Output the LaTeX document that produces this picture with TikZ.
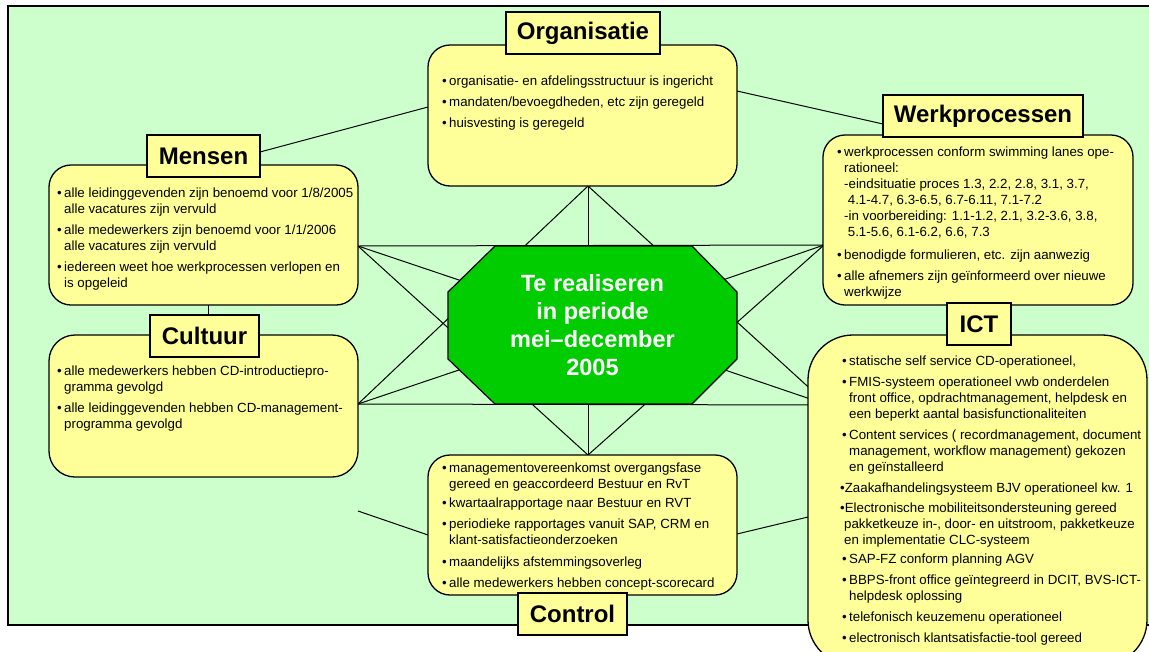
\documentclass[tikz,border=0pt]{standalone}
\usepackage{fontspec}
\setmainfont{Liberation Sans}
\definecolor{bg}{HTML}{CCFFCC}
\definecolor{note}{HTML}{FFFF99}
\definecolor{hubgreen}{HTML}{00CC00}
\newcommand\bulletmark{\makebox[7pt][l]{\textbullet}}
\newcommand\itemind{\hspace*{7pt}}
\begin{document}
\begin{tikzpicture}[x=1pt,y=-1pt,
  card/.style={draw, fill=note, line width=1.3pt, rounded corners=22pt, inner sep=0pt},
  ttl/.style={draw, fill=note, line width=1.3pt, inner sep=0pt,
    font=\bfseries\fontsize{24}{28}\selectfont},
  txt/.style={anchor=north west, inner sep=0pt, align=left,
    font=\fontsize{13.3}{16}\selectfont},
  link/.style={line width=1pt}]
\useasboundingbox (0,0) rectangle (1149,651);
\clip (0,0) rectangle (1149,651);

% green field
\path[fill=bg, draw=black, line width=1.6pt] (8,6) rectangle (1170,625);

% anchor points of the star
\coordinate (O) at (588,186);
\coordinate (C) at (588,455);
\coordinate (M) at (358,246);
\coordinate (K) at (358,404);
\coordinate (W) at (824,245);
\coordinate (I) at (828,405);
\coordinate (H) at (592.5,325);

% star lines
\draw[link] (M) -- (W);
\draw[link] (K) -- (I);
\draw[link] (O) -- (C);
\draw[link] (M) -- (C);
\draw[link] (K) -- (O);
\draw[link] (W) -- (C);
\draw[link] (I) -- (O);
\draw[link] (M) -- (H);
\draw[link] (K) -- (H);
\draw[link] (W) -- (H);
\draw[link] (I) -- (H);

% connectors between the outer boxes
\coordinate (mo1) at (260,152);
\coordinate (mo2) at (428,107);
\coordinate (wo1) at (883,124);
\coordinate (wo2) at (737,91);
\coordinate (mc1) at (208,305);
\coordinate (mc2) at (208,315);
\coordinate (cc1) at (358,511);
\coordinate (cc2) at (428,535);
\coordinate (ci1) at (737,534);
\coordinate (ci2) at (808,517);
\draw[link] (mo1) -- (mo2);
\draw[link] (wo1) -- (wo2);
\draw[link] (mc1) -- (mc2);
\draw[link] (cc1) -- (cc2);
\draw[link] (ci1) -- (ci2);

% central octagon
\filldraw[fill=hubgreen, draw=black, line width=1.2pt]
  (495,246) -- (692,246) -- (737,292) -- (737,359) -- (692,404)
  -- (495,404) -- (448,359) -- (448,292) -- cycle;
\node[text=white, align=center, inner sep=0pt,
  font=\bfseries\fontsize{23.5}{28}\selectfont] (hub) at (592.5,325.5)
  {Te realiseren\\in periode\\mei–december\\2005};

% outer boxes
\node[card, minimum width=309pt, minimum height=141pt] (org) at (582.5,115.5) {};
\node[card, minimum width=310pt, minimum height=170pt] (wrk) at (978,220) {};
\node[card, minimum width=309pt, minimum height=140pt] (men) at (203.5,235) {};
\node[card, rounded corners=26pt, minimum width=309pt, minimum height=142pt] (cul) at (203.5,406) {};
\node[card, minimum width=309pt, minimum height=140pt] (ctl) at (582.5,525) {};
\node[card, rounded corners=45pt, minimum width=339pt, minimum height=330pt] (ict) at (977.5,500) {};

% title boxes
\node[ttl, minimum width=154pt, minimum height=42pt] (orgT) at (583,33) {Organisatie};
\node[ttl, minimum width=200pt, minimum height=42pt] (wrkT) at (983,116) {Werkprocessen};
\node[ttl, minimum width=113pt, minimum height=42pt] (menT) at (203.5,156) {Mensen};
\node[ttl, minimum width=109pt, minimum height=42pt] (culT) at (204.5,336) {Cultuur};
\node[ttl, minimum width=64pt, minimum height=42pt] (ictT) at (979,324) {ICT};
\node[ttl, minimum width=109pt, minimum height=42pt] (ctlT) at (572.5,614) {Control};

% box texts
\node[txt] (orgX) at (442,74.3) {\strut\bulletmark organisatie- en afdelingsstructuur is ingericht\\[5pt]
\bulletmark mandaten/bevoegdheden, etc zijn geregeld\\[5pt]
\bulletmark huisvesting is geregeld};

\node[txt] (wrkX) at (837,145.3) {\strut\bulletmark werkprocessen conform swimming lanes ope-\\
\itemind rationeel:\\
\itemind -eindsituatie proces 1.3, 2.2, 2.8, 3.1, 3.7,\\
\itemind\ 4.1-4.7, 6.3-6.5, 6.7-6.11, 7.1-7.2\\
\itemind -in voorbereiding: 1.1-1.2, 2.1, 3.2-3.6, 3.8,\\
\itemind\ 5.1-5.6, 6.1-6.2, 6.6, 7.3\\[7pt]
\bulletmark benodigde formulieren, etc. zijn aanwezig\\[5pt]
\bulletmark alle afnemers zijn geïnformeerd over nieuwe\\
\itemind werkwijze};

\node[txt] (menX) at (57,186.3) {\strut\bulletmark alle leidinggevenden zijn benoemd voor 1/8/2005\\
\itemind alle vacatures zijn vervuld\\[5pt]
\bulletmark alle medewerkers zijn benoemd voor 1/1/2006\\
\itemind alle vacatures zijn vervuld\\[5pt]
\bulletmark iedereen weet hoe werkprocessen verlopen en\\
\itemind is opgeleid};

\node[txt] (culX) at (57,364.3) {\strut\bulletmark alle medewerkers hebben CD-introductiepro-\\
\itemind gramma gevolgd\\[5pt]
\bulletmark alle leidinggevenden hebben CD-management-\\
\itemind programma gevolgd};

\node[txt] (ctlX) at (442,461.3) {\strut\bulletmark managementovereenkomst overgangsfase\\
\itemind gereed en geaccordeerd Bestuur en RvT\\[3pt]
\bulletmark kwartaalrapportage naar Bestuur en RVT\\[5pt]
\bulletmark periodieke rapportages vanuit SAP, CRM en\\
\itemind klant-satisfactieonderzoeken\\[6pt]
\bulletmark maandelijks afstemmingsoverleg\\[5pt]
\bulletmark alle medewerkers hebben concept-scorecard};

\node[txt] (ictX) at (842,354.3) {\strut\bulletmark statische self service CD-operationeel,\\[5pt]
\bulletmark FMIS-systeem operationeel vwb onderdelen\\
\itemind front office, opdrachtmanagement, helpdesk en\\
\itemind een beperkt aantal basisfunctionaliteiten\\[5pt]
\bulletmark Content services ( recordmanagement, document\\
\itemind management, workflow management) gekozen\\
\itemind en geïnstalleerd\\[5pt]
\hspace*{-2pt}\textbullet Zaakafhandelingsysteem BJV operationeel kw. 1\\[4pt]
\hspace*{-2pt}\textbullet Electronische mobiliteitsondersteuning gereed\\
\hspace*{2pt}pakketkeuze in-, door- en uitstroom, pakketkeuze\\
\hspace*{2pt}en implementatie CLC-systeem\\[3pt]
\bulletmark SAP-FZ conform planning AGV\\[5pt]
\bulletmark BBPS-front office geïntegreerd in DCIT, BVS-ICT-\\
\itemind helpdesk oplossing\\[5pt]
\bulletmark telefonisch keuzemenu operationeel\\[5pt]
\bulletmark electronisch klantsatisfactie-tool gereed};
\end{tikzpicture}
\end{document}
